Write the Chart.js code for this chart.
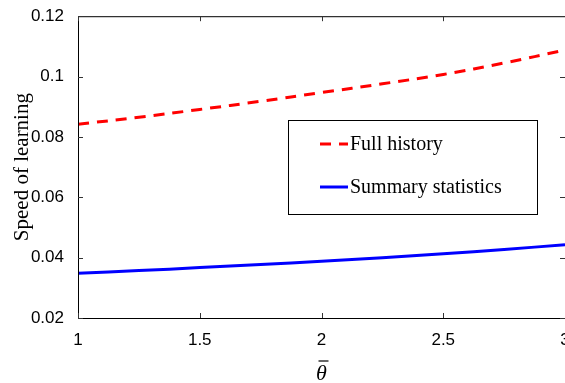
<!DOCTYPE html>
<html>
<head>
<meta charset="utf-8">
<script src="https://cdn.jsdelivr.net/npm/chart.js@4/dist/chart.umd.min.js"></script>
<style>
  html, body { margin: 0; padding: 0; background: #fff; overflow: hidden; }
  #wrap { width: 600px; height: 383px; }
</style>
</head>
<body>
<div id="wrap"><canvas id="myChart" width="600" height="383"></canvas></div>
<script>
// data
const thetaBar = [1, 1.25, 1.5, 1.75, 2, 2.25, 2.5, 2.75, 3];
const fullHistory = [0.0842, 0.0865, 0.0891, 0.0918, 0.0947, 0.0976, 0.1007, 0.1045, 0.1088];
const summaryStats = [0.0348, 0.0357, 0.0367, 0.0377, 0.0388, 0.0400, 0.0413, 0.0427, 0.0443];
const xTickLabels = ['1', '1.5', '2', '2.5', '3'];
const yTickLabels = ['0.02', '0.04', '0.06', '0.08', '0.1', '0.12'];
const seriesNames = ['Full history', 'Summary statistics'];

const ctx = document.getElementById('myChart').getContext('2d');

// box, inward ticks on all sides, legend box, theta-bar label
const frame = {
    id: 'frame',
    afterDraw(chart) {
        const c = chart.ctx;
        const a = chart.chartArea;
        const xs = chart.scales.x, ys = chart.scales.y;
        c.save();
        c.strokeStyle = '#000';
        c.lineWidth = 1;
        c.strokeRect(a.left + 0.5, a.top + 0.5, a.right - a.left, a.bottom - a.top);
        c.strokeStyle = '#333';
        xs.ticks.forEach(t => {
            const px = Math.round(xs.getPixelForValue(t.value)) + 0.5;
            c.beginPath();
            c.moveTo(px, a.bottom); c.lineTo(px, a.bottom - 5);
            c.moveTo(px, a.top); c.lineTo(px, a.top + 5);
            c.stroke();
        });
        ys.ticks.forEach(t => {
            const py = Math.round(ys.getPixelForValue(t.value)) + 0.5;
            c.beginPath();
            c.moveTo(a.left, py); c.lineTo(a.left + 5, py);
            c.moveTo(a.right, py); c.lineTo(a.right - 5, py);
            c.stroke();
        });

        // x axis title: theta with a bar
        const cx = xs.getPixelForValue(2);
        c.fillStyle = '#000';
        c.font = 'italic 22px "Liberation Serif", serif';
        c.textAlign = 'center';
        c.textBaseline = 'alphabetic';
        c.fillText('θ', cx, 380);
        c.beginPath();
        c.strokeStyle = '#000';
        c.lineWidth = 1.2;
        c.moveTo(cx - 3, 361); c.lineTo(cx + 7, 361);
        c.stroke();

        // legend
        c.fillStyle = '#fff';
        c.fillRect(288, 120, 249, 94);
        c.strokeStyle = '#000';
        c.lineWidth = 1;
        c.strokeRect(288.5, 120.5, 249, 94);
        c.font = '20px "Liberation Serif", serif';
        c.textBaseline = 'middle';
        c.textAlign = 'left';
        const rows = [144, 187];
        chart.data.datasets.forEach((ds, i) => {
            c.beginPath();
            c.strokeStyle = ds.borderColor;
            c.lineWidth = 3;
            c.setLineDash(ds.borderDash || []);
            c.moveTo(320, rows[i]); c.lineTo(348, rows[i]);
            c.stroke();
            c.setLineDash([]);
            c.fillStyle = '#000';
            c.fillText(ds.label, 350, rows[i] + 1);
        });
        c.restore();
    }
};

const data = {
    datasets: [
        {
            label: seriesNames[0],
            data: thetaBar.map((x, i) => ({x: x, y: fullHistory[i]})),
            borderColor: '#ff0000',
            borderWidth: 3,
            borderDash: [11, 8],
            pointRadius: 0,
            tension: 0.4,
            fill: false
        },
        {
            label: seriesNames[1],
            data: thetaBar.map((x, i) => ({x: x, y: summaryStats[i]})),
            borderColor: '#0000ff',
            borderWidth: 3,
            pointRadius: 0,
            tension: 0.4,
            fill: false
        }
    ]
};

const config = {
    type: 'line',
    data,
    options: {
        responsive: false,
        animation: false,
        layout: { padding: { top: 14, right: 35, left: 0, bottom: 0 } },
        plugins: { legend: { display: false }, tooltip: { enabled: false } },
        scales: {
            x: {
                type: 'linear',
                min: 1,
                max: 3,
                grid: { display: false },
                border: { display: false },
                ticks: {
                    stepSize: 0.5,
                    padding: 4,
                    color: '#000',
                    font: { family: '"Liberation Sans", Arial, sans-serif', size: 17 },
                    maxRotation: 0,
                    callback: (v, i) => xTickLabels[i]
                },
                afterFit: s => { s.height = 65; }
            },
            y: {
                min: 0.02,
                max: 0.12,
                grid: { display: false },
                border: { display: false },
                ticks: {
                    stepSize: 0.02,
                    padding: 6,
                    color: '#000',
                    font: { family: '"Liberation Sans", Arial, sans-serif', size: 17 },
                    callback: (v, i) => yTickLabels[i]
                },
                title: {
                    display: true,
                    text: 'Speed of learning',
                    color: '#000',
                    font: { family: '"Liberation Serif", serif', size: 21 },
                    padding: { top: 10, bottom: 0 }
                },
                afterFit: s => { s.width = 78; }
            }
        }
    },
    plugins: [frame]
};

let myChart = new Chart(ctx, config);
</script>
</body>
</html>
